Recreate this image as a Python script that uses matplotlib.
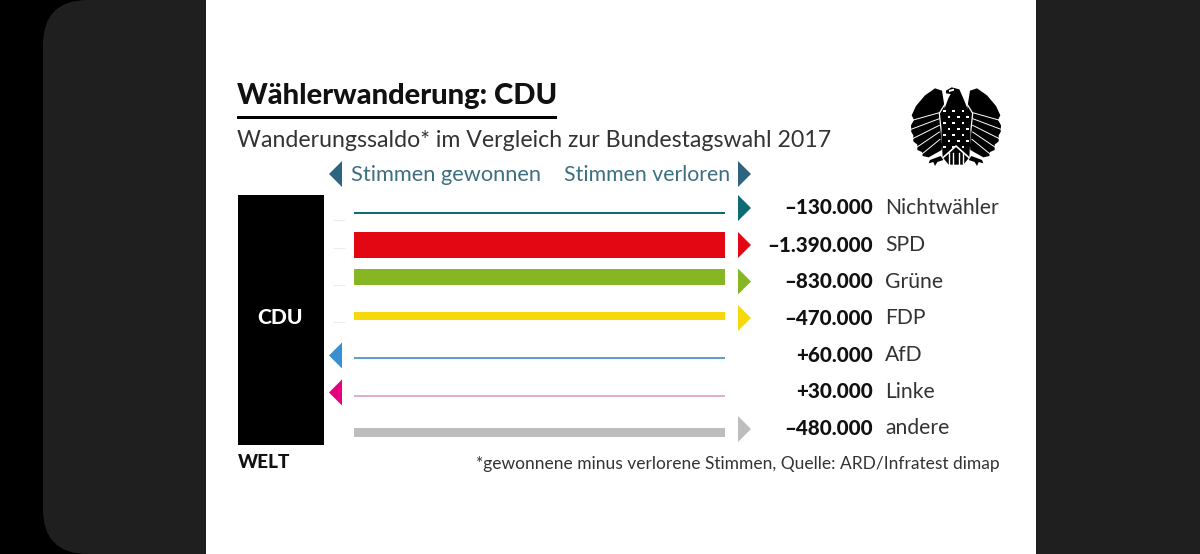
import matplotlib
matplotlib.use("Agg")
import matplotlib.pyplot as plt
from matplotlib.patches import Polygon, Rectangle, FancyBboxPatch

# Daten
parteien = ['Nichtwähler', 'SPD', 'Grüne', 'FDP', 'AfD', 'Linke', 'andere']
saldo = [-130000, -1390000, -830000, -470000, 60000, 30000, -480000]
farben = ['#0f6b73', '#e30613', '#86b624', '#f5d90a', '#3a8fcf', '#e6007e', '#bdbdbd']
linien_farben = ['#0f6b73', '#e30613', '#86b624', '#f5d90a', '#5f9fcb', '#e3aeca', '#bdbdbd']

# Layout in Pixeln
balken_y = [213, 244.5, 277, 316, 358, 396, 432.5]
pfeil_y = [208, 245, 281.5, 318, 355.5, 392.5, 429]
text_y = [208, 245, 281.5, 318.5, 355, 391.5, 428.5]
PX_PRO_STIMME = 26 / 1390000

FONT = 'Lato'
plt.rcParams['font.family'] = [FONT, 'DejaVu Sans']


def pt(px):
    return px * 0.72


def fmt(wert):
    vorzeichen = '+' if wert > 0 else '–'
    return vorzeichen + f'{abs(wert):,}'.replace(',', '.')


def pfeil(ax, x, y, richtung, farbe):
    # Dreieck 13 px breit, 26 px hoch
    if richtung > 0:
        pts = [(x, y - 13), (x + 13, y), (x, y + 13)]
    else:
        pts = [(x + 13, y - 13), (x, y), (x + 13, y + 13)]
    ax.add_patch(Polygon(pts, closed=True, fc=farbe, ec='none', zorder=3))


def adler(ax):
    # Bundesadler, Koordinaten in Pixeln des Zielbildes
    def umr(p):
        return [(880 + x / 3, 70 + y / 3) for x, y in p]

    def spiegel(p):
        return [(456 - x, y) for x, y in p]

    # Fluegel als Flaeche, Federn werden weiss eingeschnitten
    fluegel = [(192, 100), (186, 62), (165, 55), (135, 76), (108, 108), (95, 136), (102, 150),
               (93, 166), (94, 186), (100, 196), (100, 214), (112, 224), (112, 240), (126, 246),
               (128, 258), (146, 262), (185, 240), (195, 120)]
    fugen = [
        [(178, 128), (100, 150)],
        [(178, 146), (93, 178)],
        [(178, 166), (100, 205)],
        [(178, 186), (110, 232)],
        [(180, 208), (126, 252)],
    ]
    for form in [fluegel, spiegel(fluegel)]:
        ax.add_patch(Polygon(umr(form), fc='black', ec='none', zorder=3))
    for fuge in fugen:
        ax.plot(*zip(*umr(fuge)), color='white', lw=0.7, zorder=3.5)
        ax.plot(*zip(*umr(spiegel(fuge))), color='white', lw=0.7, zorder=3.5)
    # Trennlinie zwischen Fluegel und Rumpf
    trenn = [(192, 68), (196, 100), (178, 130), (192, 262)]
    ax.plot(*zip(*umr(trenn)), color='white', lw=0.9, zorder=3.6)
    ax.plot(*zip(*umr(spiegel(trenn))), color='white', lw=0.9, zorder=3.6)
    # Kopf und Rumpf
    koerper = [(198, 62), (215, 52), (238, 58), (250, 85), (262, 115), (272, 190),
               (268, 262), (250, 284), (206, 284), (188, 262), (184, 190), (194, 115),
               (205, 85), (212, 72), (198, 70)]
    ax.add_patch(Polygon(umr(koerper), fc='black', ec='none', zorder=4))
    ax.add_patch(Polygon(umr([(207, 60), (222, 56), (222, 62), (207, 66)]), fc='white', ec='none', zorder=5))
    # weisse Punkte auf der Brust
    for zeile, y in enumerate(range(122, 245, 18)):
        versatz = 14 if zeile % 2 else 0
        for x in range(186 + versatz, 266, 28):
            punkt = umr([(x + 3, y - 3), (x + 11, y - 3), (x + 11, y + 3), (x + 3, y + 3)])
            ax.add_patch(Polygon(punkt, fc='white', ec='none', zorder=5))
    # Schwanz
    ax.plot(*zip(*umr([(190, 262), (228, 228), (266, 262)])), color='white', lw=1.2, zorder=5)
    for x in [206, 220, 236, 250]:
        ax.plot(*zip(*umr([(x, 250), (x, 284)])), color='white', lw=1.0, zorder=5)
    # Beine
    bein = [(182, 258), (150, 270), (146, 280), (160, 276), (165, 288), (172, 276), (190, 270)]
    ax.add_patch(Polygon(umr(bein), fc='black', ec='none', zorder=3))
    ax.add_patch(Polygon(umr(spiegel(bein)), fc='black', ec='none', zorder=3))


fig = plt.figure(figsize=(12, 5.54), dpi=100, facecolor='black')
ax = fig.add_axes([0, 0, 1, 1])
ax.set_xlim(0, 1200)
ax.set_ylim(554, 0)
ax.axis('off')

# Hintergrund (Handy-Screenshot)
ax.add_patch(FancyBboxPatch((43, 0), 1300, 554, boxstyle='round,pad=0,rounding_size=45',
                            fc='#1f1f1f', ec='none', zorder=0))
ax.add_patch(Rectangle((206, 0), 830, 554, fc='white', ec='none', zorder=1))

# Titel
ax.text(237, 96, 'Wählerwanderung: CDU', fontsize=pt(29.1), fontweight='black', color='#111111',
        va='center', ha='left', zorder=3)
ax.add_patch(Rectangle((237, 116), 320, 3, fc='black', ec='none', zorder=3))
ax.text(237, 140.5, 'Wanderungssaldo* im Vergleich zur Bundestagswahl 2017', fontsize=pt(23.15),
        color='#333333', va='center', ha='left', zorder=3)

# Kopfzeile Richtung
pfeil(ax, 329, 174, -1, '#2f6480')
pfeil(ax, 738, 174, 1, '#2f6480')
ax.text(351, 175, 'Stimmen gewonnen', fontsize=pt(21.8), color='#3d6f80', va='center', ha='left', zorder=3)
ax.text(730, 175, 'Stimmen verloren', fontsize=pt(21.3), color='#3d6f80', va='center', ha='right', zorder=3)

# CDU-Block
ax.add_patch(Rectangle((238, 195), 86, 250, fc='black', ec='none', zorder=3))
ax.text(280.5, 317, 'CDU', fontsize=pt(21), fontweight='black', color='white', va='center', ha='center', zorder=4)

# kleine Striche neben dem Block
for y in [220, 248, 285, 322]:
    ax.plot([334, 344], [y, y], color='#ececec', lw=0.8, zorder=2)

# Balken, Dicke folgt dem Saldo
for i, wert in enumerate(saldo):
    dicke = max(abs(wert) * PX_PRO_STIMME, 2)
    ax.barh(balken_y[i], 371, height=dicke, left=354, color=linien_farben[i], zorder=3)
    if wert < 0:
        pfeil(ax, 738, pfeil_y[i], 1, farben[i])
    else:
        pfeil(ax, 329, pfeil_y[i], -1, farben[i])
    ax.text(873, text_y[i], fmt(wert), fontsize=pt(20.6), fontweight='black', color='#111111',
            va='center', ha='right', zorder=3)
    ax.text(885, text_y[i], parteien[i], fontsize=pt(21.1), color='#333333', va='center', ha='left', zorder=3)

# Fusszeile
ax.text(238, 462, 'WELT', fontsize=pt(19), fontweight='black', color='#111111', va='center', ha='left', zorder=3)
ax.text(1000, 463.5, '*gewonnene minus verlorene Stimmen, Quelle: ARD/Infratest dimap', fontsize=pt(17.4),
        color='#333333', va='center', ha='right', zorder=3)

adler(ax)

fig.savefig('out.png', dpi=100, facecolor='black')
